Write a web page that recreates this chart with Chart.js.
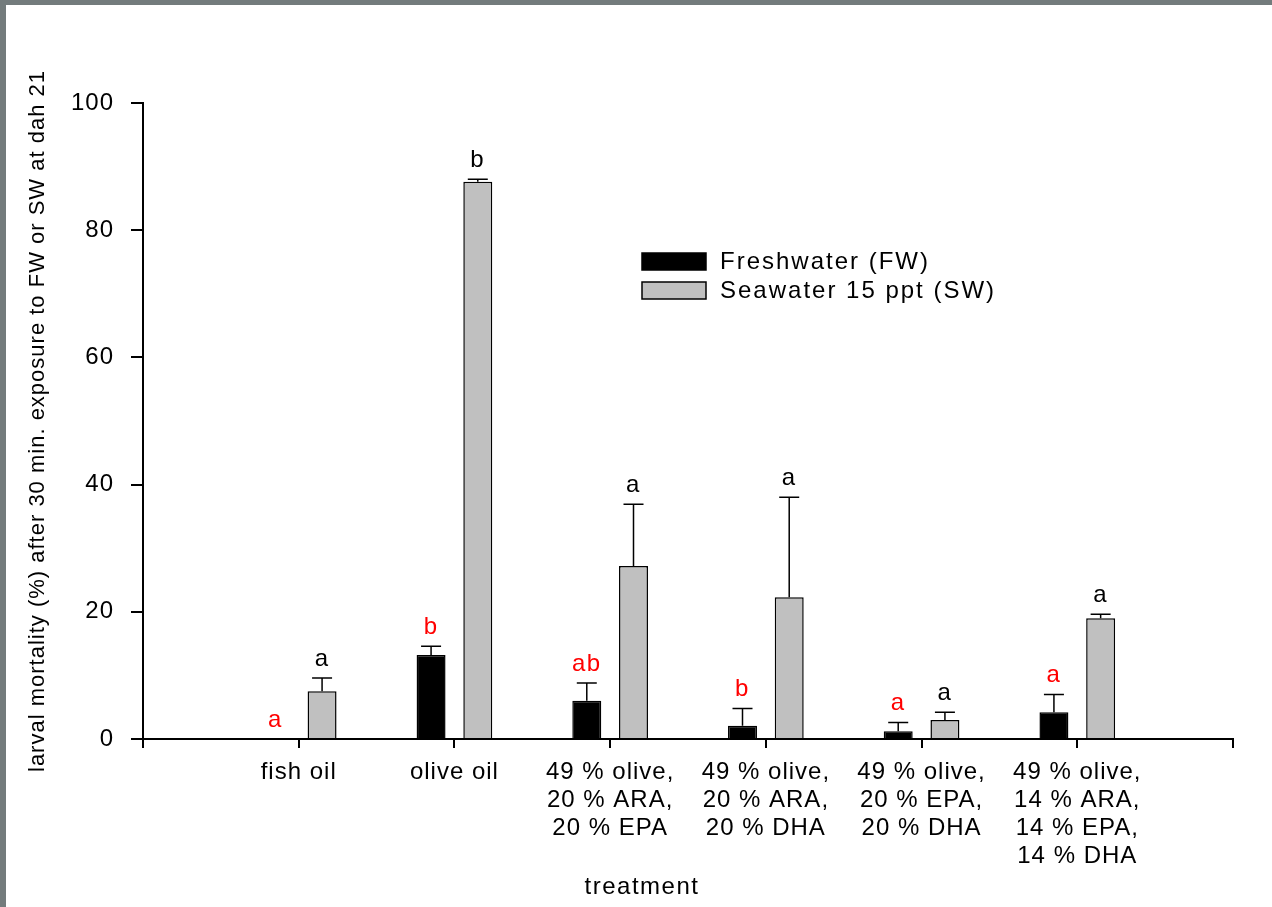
<!DOCTYPE html>
<html>
<head>
<meta charset="utf-8">
<script src="https://cdn.jsdelivr.net/npm/chart.js@4.4.1/dist/chart.umd.min.js"></script>
<style>
  html, body { margin: 0; padding: 0; }
  body { width: 1272px; height: 907px; background: #737b7c; position: relative; overflow: hidden; }
  #wrap { position: absolute; left: 6px; top: 5px; width: 1266px; height: 902px; background: #fff; }
</style>
</head>
<body>
<div id="wrap"><canvas id="chart" width="1266" height="902"></canvas></div>
<script>
// categories (empty slots at both ends give the axis its extra space)
const treatments = [
    '',
    'fish oil',
    'olive oil',
    ['49 % olive,', '20 % ARA,', '20 % EPA'],
    ['49 % olive,', '20 % ARA,', '20 % DHA'],
    ['49 % olive,', '20 % EPA,', '20 % DHA'],
    ['49 % olive,', '14 % ARA,', '14 % EPA,', '14 % DHA'],
    ''
];

// mortality (%) and upper error (SD)
const freshwater   = [null, 0,   13.2, 6.0, 2.1, 1.2, 4.2, null];
const freshwaterSd = [null, 0,   1.4,  2.8, 2.7, 1.4, 2.8, null];
const seawater     = [null, 7.5, 87.6, 27.2, 22.3, 3.0, 19.0, null];
const seawaterSd   = [null, 2.1, 0.4,  9.7, 15.7, 1.2, 0.6, null];

// significance letters
const freshwaterLetters = [null, 'a', 'b', 'ab', 'b', 'a', 'a', null];
const seawaterLetters   = [null, 'a', 'b', 'a',  'a', 'a', 'a', null];

const yTicks = [0, 20, 40, 60, 80, 100];

const FONT = 'Arial, "Liberation Sans", sans-serif';

// text in the original figure is slightly letter-spaced
const spacing = {
    id: 'spacing',
    beforeDraw(chart) { chart.ctx.letterSpacing = '1px'; },
    afterDatasetsDraw(chart) { chart.ctx.letterSpacing = '1.5px'; },
    afterDraw(chart) { chart.ctx.letterSpacing = '0px'; }
};

const errorBars = {
    id: 'errorBars',
    afterDatasetsDraw(chart) {
        const ctx = chart.ctx;
        const y = chart.scales.y;
        const sets = [
            { sd: freshwaterSd, letters: freshwaterLetters, color: '#ff0000' },
            { sd: seawaterSd, letters: seawaterLetters, color: '#000000' }
        ];
        ctx.save();
        sets.forEach((s, i) => {
            const meta = chart.getDatasetMeta(i);
            const values = chart.data.datasets[i].data;
            meta.data.forEach((bar, j) => {
                if (values[j] === null) return;
                const top = values[j] + (s.sd[j] || 0);
                const yTop = y.getPixelForValue(top);
                if (s.sd[j]) {
                    ctx.strokeStyle = '#000';
                    ctx.lineWidth = 1.5;
                    ctx.beginPath();
                    ctx.moveTo(bar.x, y.getPixelForValue(values[j]));
                    ctx.lineTo(bar.x, yTop);
                    ctx.moveTo(bar.x - 10, yTop);
                    ctx.lineTo(bar.x + 10, yTop);
                    ctx.stroke();
                }
                if (s.letters[j]) {
                    ctx.fillStyle = s.color;
                    ctx.font = '24px ' + FONT;
                    ctx.textAlign = 'center';
                    ctx.textBaseline = 'alphabetic';
                    ctx.fillText(s.letters[j], bar.x, yTop - 12);
                }
            });
        });
        ctx.restore();
    }
};

const extraText = {
    id: 'extraText',
    afterDraw(chart) {
        const ctx = chart.ctx;
        ctx.save();
        ctx.letterSpacing = '2px';
        ctx.font = '24px ' + FONT;
        ctx.textBaseline = 'middle';
        ctx.textAlign = 'left';
        chart.data.datasets.forEach((ds, i) => {
            const top = 248 + i * 29;
            ctx.fillStyle = ds.backgroundColor;
            ctx.fillRect(636, top, 64, 17);
            ctx.strokeStyle = '#000';
            ctx.lineWidth = 1.5;
            ctx.strokeRect(636, top, 64, 17);
            ctx.fillStyle = '#000';
            ctx.fillText(ds.label, 714, top + 9);
        });
        ctx.letterSpacing = '1.5px';
        ctx.font = '24px ' + FONT;
        ctx.textAlign = 'center';
        ctx.fillText('treatment', 636, 882);
        ctx.restore();
    }
};

new Chart(document.getElementById('chart'), {
    type: 'bar',
    data: {
        labels: treatments,
        datasets: [
            {
                label: 'Freshwater (FW)',
                data: freshwater,
                backgroundColor: '#000000',
                borderColor: '#000000',
                borderWidth: 1.5,
                barPercentage: 0.62,
                categoryPercentage: 0.6
            },
            {
                label: 'Seawater 15 ppt (SW)',
                data: seawater,
                backgroundColor: '#c0c0c0',
                borderColor: '#000000',
                borderWidth: 1.5,
                barPercentage: 0.62,
                categoryPercentage: 0.6
            }
        ]
    },
    options: {
        responsive: false,
        animation: false,
        devicePixelRatio: 1,
        layout: { padding: { top: 98, right: 39, left: 0, bottom: 0 } },
        plugins: {
            legend: { display: false },
            tooltip: { enabled: false }
        },
        scales: {
            x: {
                z: 1,
                offset: false,
                grid: { offset: false, drawOnChartArea: false, drawTicks: true, tickLength: 9, color: '#000', lineWidth: 2 },
                border: { color: '#000', width: 2 },
                ticks: {
                    color: '#000',
                    font: { family: FONT, size: 24, lineHeight: 1.17 },
                    padding: 10,
                    maxRotation: 0,
                    autoSkip: false
                },
                afterFit(scale) { scale.height = 168; }
            },
            y: {
                min: 0,
                max: 100,
                grid: { drawOnChartArea: false, drawTicks: true, tickLength: 12, color: '#000', lineWidth: 2 },
                border: { color: '#000', width: 2 },
                afterBuildTicks(scale) { scale.ticks = yTicks.map(v => ({ value: v })); },
                ticks: {
                    color: '#000',
                    font: { family: FONT, size: 24 },
                    padding: 17
                },
                title: {
                    display: true,
                    text: 'larval mortality (%) after 30 min. exposure to FW or SW at dah 21',
                    color: '#000',
                    font: { family: FONT, size: 22 },
                    padding: { top: 19, bottom: 0 }
                },
                afterFit(scale) { scale.width = 137; }
            }
        }
    },
    plugins: [spacing, errorBars, extraText]
});
</script>
</body>
</html>
